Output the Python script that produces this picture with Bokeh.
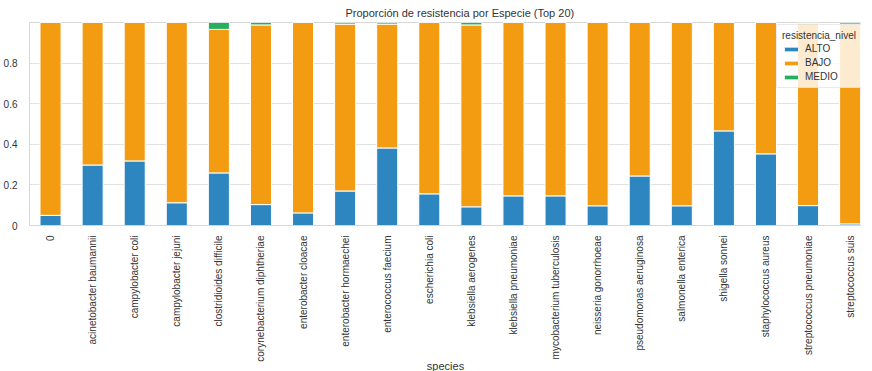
import math
from bokeh.plotting import figure
from bokeh.models import ColumnDataSource, FixedTicker, Range1d, Legend, LegendItem
from bokeh.embed import file_html
from bokeh.resources import INLINE

species = [
    "0", "acinetobacter baumannii", "campylobacter coli", "campylobacter jejuni",
    "clostridioides difficile", "corynebacterium diphtheriae", "enterobacter cloacae",
    "enterobacter hormaechei", "enterococcus faecium", "escherichia coli",
    "klebsiella aerogenes", "klebsiella pneumoniae", "mycobacterium tuberculosis",
    "neisseria gonorrhoeae", "pseudomonas aeruginosa", "salmonella enterica",
    "shigella sonnei", "staphylococcus aureus", "streptococcus pneumoniae",
    "streptococcus suis",
]
alto = [0.05, 0.298, 0.318, 0.112, 0.259, 0.103, 0.062, 0.17, 0.382, 0.156,
        0.092, 0.146, 0.146, 0.097, 0.244, 0.097, 0.466, 0.353, 0.098, 0.008]
bajo = [0.95, 0.702, 0.682, 0.888, 0.707, 0.885, 0.938, 0.822, 0.61, 0.844,
        0.896, 0.854, 0.854, 0.903, 0.756, 0.903, 0.534, 0.647, 0.898, 0.984]
medio = [0.0, 0.0, 0.0, 0.0, 0.034, 0.012, 0.0, 0.008, 0.008, 0.0,
         0.012, 0.0, 0.0, 0.0, 0.0, 0.0, 0.0, 0.0, 0.004, 0.008]
levels = ["ALTO", "BAJO", "MEDIO"]
colors = ["#2e86c1", "#f39c12", "#27ae60"]
y_ticks = [0.0, 0.2, 0.4, 0.6, 0.8]

FONT = "Liberation Sans"
TXT = "#333333"

src = ColumnDataSource(dict(x=list(range(len(species))), ALTO=alto, BAJO=bajo, MEDIO=medio))

p = figure(frame_width=832, frame_height=203, output_backend="svg", toolbar_location=None,
           x_range=Range1d(-0.5, len(species) - 0.73), y_range=Range1d(0, 1.0),
           min_border_left=24, min_border_right=0, min_border_top=0, min_border_bottom=0)

renderers = p.vbar_stack(levels, x="x", width=0.5, source=src, color=colors,
                         line_color="white", line_width=1)

p.title.text = "Proporción de resistencia por Especie (Top 20)"
p.title.align = "left"
p.title.offset = 316
p.title.text_font = FONT
p.title.text_font_size = "11px"
p.title.text_font_style = "normal"
p.title.text_color = TXT
p.title.standoff = 8

p.xaxis.ticker = FixedTicker(ticks=list(range(len(species))))
p.xaxis.major_label_overrides = {i: s for i, s in enumerate(species)}
p.xaxis.major_label_orientation = math.pi / 2
p.xaxis.major_label_standoff = 4
p.xaxis.axis_label = "species"
p.xaxis.axis_label_standoff = -5

p.yaxis.ticker = FixedTicker(ticks=y_ticks)
p.yaxis.major_label_standoff = 6

for ax in (p.xaxis[0], p.yaxis[0]):
    ax.major_label_text_font = FONT
    ax.major_label_text_font_size = "10px"
    ax.major_label_text_color = TXT
    ax.axis_label_text_font = FONT
    ax.axis_label_text_font_size = "11px"
    ax.axis_label_text_font_style = "normal"
    ax.axis_label_text_color = TXT
    ax.axis_line_color = "#d6d6d6"
    ax.major_tick_line_color = None
    ax.minor_tick_line_color = None

p.xgrid.grid_line_color = None
p.ygrid.grid_line_color = "#e2e2e2"
p.ygrid.grid_line_width = 1
p.outline_line_color = "#d6d6d6"
p.background_fill_color = "white"
p.border_fill_color = "white"

legend = Legend(items=[LegendItem(label=l, renderers=[r]) for l, r in zip(levels, renderers)],
                location=(747, 137))
legend.title = "resistencia_nivel"
legend.title_text_font = FONT
legend.title_text_font_size = "10px"
legend.title_text_font_style = "normal"
legend.title_text_color = TXT
legend.title_standoff = 2
legend.label_text_font = FONT
legend.label_text_font_size = "10px"
legend.label_text_color = TXT
legend.label_height = 10
legend.glyph_height = 6
legend.glyph_width = 18
legend.spacing = 3
legend.padding = 5
legend.margin = 0
legend.background_fill_alpha = 0.8
legend.border_line_color = "#d6d6d6"
p.add_layout(legend)

open("out.html", "w").write(file_html(p, INLINE))
